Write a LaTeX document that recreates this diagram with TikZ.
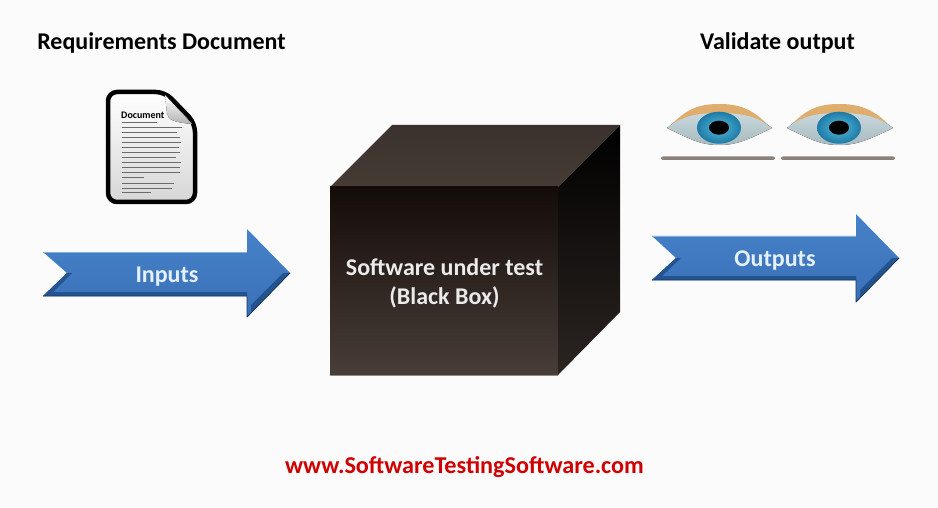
\documentclass[tikz,border=0pt]{standalone}
\usepackage{fontspec}
\setmainfont{Carlito}
\definecolor{bgc}{HTML}{FBFBFB}
\definecolor{cubetop}{HTML}{463B35}
\definecolor{cubedark}{HTML}{140C09}
\definecolor{cubelow}{HTML}{483D38}
\definecolor{arrowmid}{HTML}{3A70B8}
\definecolor{arrowlight}{HTML}{4682C8}
\definecolor{arrowdark}{HTML}{24548F}
\definecolor{arrowedge}{HTML}{17365F}
\definecolor{labelc}{HTML}{E4F0FA}
\definecolor{lidc}{HTML}{DFAE6E}
\definecolor{eyetop}{HTML}{CFE0E6}
\definecolor{eyelow}{HTML}{A9B9BD}
\definecolor{irisin}{HTML}{58BCDD}
\definecolor{irisout}{HTML}{1D7AA5}
\definecolor{shadowc}{HTML}{8A817B}
\tikzset{
  x=1pt,y=-1pt,
  heading/.style={font=\fontsize{24}{27}\selectfont\bfseries,text=black,inner sep=0pt},
  boxlabel/.style={font=\fontsize{24}{29}\selectfont\bfseries,text=white!92!black,align=center,inner sep=0pt},
  arrowlabel/.style={font=\fontsize{24}{27}\selectfont\bfseries,text=labelc,inner sep=0pt},
  urllabel/.style={font=\fontsize{24.2}{27}\selectfont\bfseries,text=red!82!black,inner sep=0pt},
  arrowbody/.style={top color=arrowlight,bottom color=arrowmid},
  doctext/.style={line width=.9pt,color=black!58},
  shadowbar/.style={fill=shadowc,rounded corners=2pt},
}
\begin{document}
\begin{tikzpicture}
\useasboundingbox (0,0) rectangle (938,508);
\fill[bgc] (0,0) rectangle (938,508);

% Cube
\shade[top color=cubetop!85!black,bottom color=cubetop] (330,187) -- (392,125) -- (620,125) -- (558,187) -- cycle;
\shade[top color=cubedark,bottom color=cubelow] (330,187) rectangle (558,375);
\shade[top color=black,bottom color=cubelow!60!black] (558,187) -- (620,125) -- (620,312) -- (558,375) -- cycle;
\draw[black!45,line width=.8pt] (330,375) -- (558,375);
\node[boxlabel] (cubetext) at (444.5,283) {Software under test\\(Black Box)};

% Inputs arrow
\shade[arrowbody] (43,252) -- (247,252) -- (247,229) -- (290,273) -- (247,317) -- (247,296) -- (43,296) -- (67,273) -- cycle;
\fill[arrowdark] (43,296) -- (67,273) -- (72,273) -- (53,292) -- (247,292) -- (247,296) -- cycle;
\fill[arrowdark] (247,317) -- (290,273) -- (283,273) -- (251,305) -- (251,312) -- cycle;
\draw[arrowlight!65!white,line width=.8pt] (43,252) -- (247,252);
\draw[arrowedge,line width=.8pt,line join=round] (43,296) -- (247,296) -- (247,317) -- (290,273);
\node[arrowlabel] (inputs) at (167,277) {Inputs};

% Outputs arrow
\shade[arrowbody] (652,236) -- (856,236) -- (856,214) -- (899,258) -- (856,302) -- (856,280) -- (652,280) -- (676,258) -- cycle;
\fill[arrowdark] (652,280) -- (676,258) -- (681,258) -- (662,276) -- (856,276) -- (856,280) -- cycle;
\fill[arrowdark] (856,302) -- (899,258) -- (892,258) -- (860,290) -- (860,297) -- cycle;
\draw[arrowlight!65!white,line width=.8pt] (652,236) -- (856,236);
\draw[arrowedge,line width=.8pt,line join=round] (652,280) -- (856,280) -- (856,302) -- (899,258);
\node[arrowlabel] (outputs) at (775,261) {Outputs};

% Document icon
\draw[black,line width=4.5pt,rounded corners=9pt,top color=white,bottom color=black!16]
  (135,92) -- (165,92) -- (195,123) -- (195,202) -- (108,202) -- (108,92) -- cycle;
\fill[top color=white,bottom color=black!30] (165,95) -- (167,113) .. controls (168,120) and (173,122) .. (192,124) -- cycle;
\node[font=\fontsize{10}{11}\selectfont\bfseries,inner sep=0pt,anchor=west] (doctitle) at (121,115) {Document};
\foreach \yy/\xe in {122/157,127/182,132/177,137/180,142/181,147/179,152/180,157/176,162/181,167/180,172/180,177/144,183/174,188/172,192/151}{
  \draw[doctext] (122,\yy) -- (\xe,\yy);
}

% Eyes
\foreach \cx/\xl/\xr in {719/667/772,839/787/893}{
  \fill[top color=eyetop,bottom color=eyelow] (\xl,128) .. controls (\xl+20,112) and (\cx-20,105) .. (\cx,105) .. controls (\cx+20,105) and (\xr-22,112) .. (\xr,128) .. controls (\xr-25,140) and (\cx+18,145) .. (\cx,145) .. controls (\cx-18,145) and (\xl+25,140) .. (\xl,128) -- cycle;
  \fill[lidc] (\xl+5,124) .. controls (\xl+20,109) and (\cx-20,104) .. (\cx,104) .. controls (\cx+20,104) and (\xr-20,109) .. (\xr-5,124) .. controls (\xr-18,116) and (\cx+22,113) .. (\cx,113) .. controls (\cx-22,113) and (\xl+18,116) .. (\xl+5,124) -- cycle;
  \shade[inner color=irisin,outer color=irisout] (\cx,127.7) ellipse[x radius=22,y radius=16];
  \fill[black] (\cx,127.7) ellipse[x radius=10,y radius=7];
}
\fill[shadowbar] (661,156.5) rectangle (775,160);
\fill[shadowbar] (781,156.5) rectangle (895,160);

% Titles
\node[heading] (req) at (161.5,43) {Requirements Document};
\node[heading] (val) at (777.5,43) {Validate output};
\node[urllabel] (url) at (464.5,467) {www.SoftwareTestingSoftware.com};
\end{tikzpicture}
\end{document}
